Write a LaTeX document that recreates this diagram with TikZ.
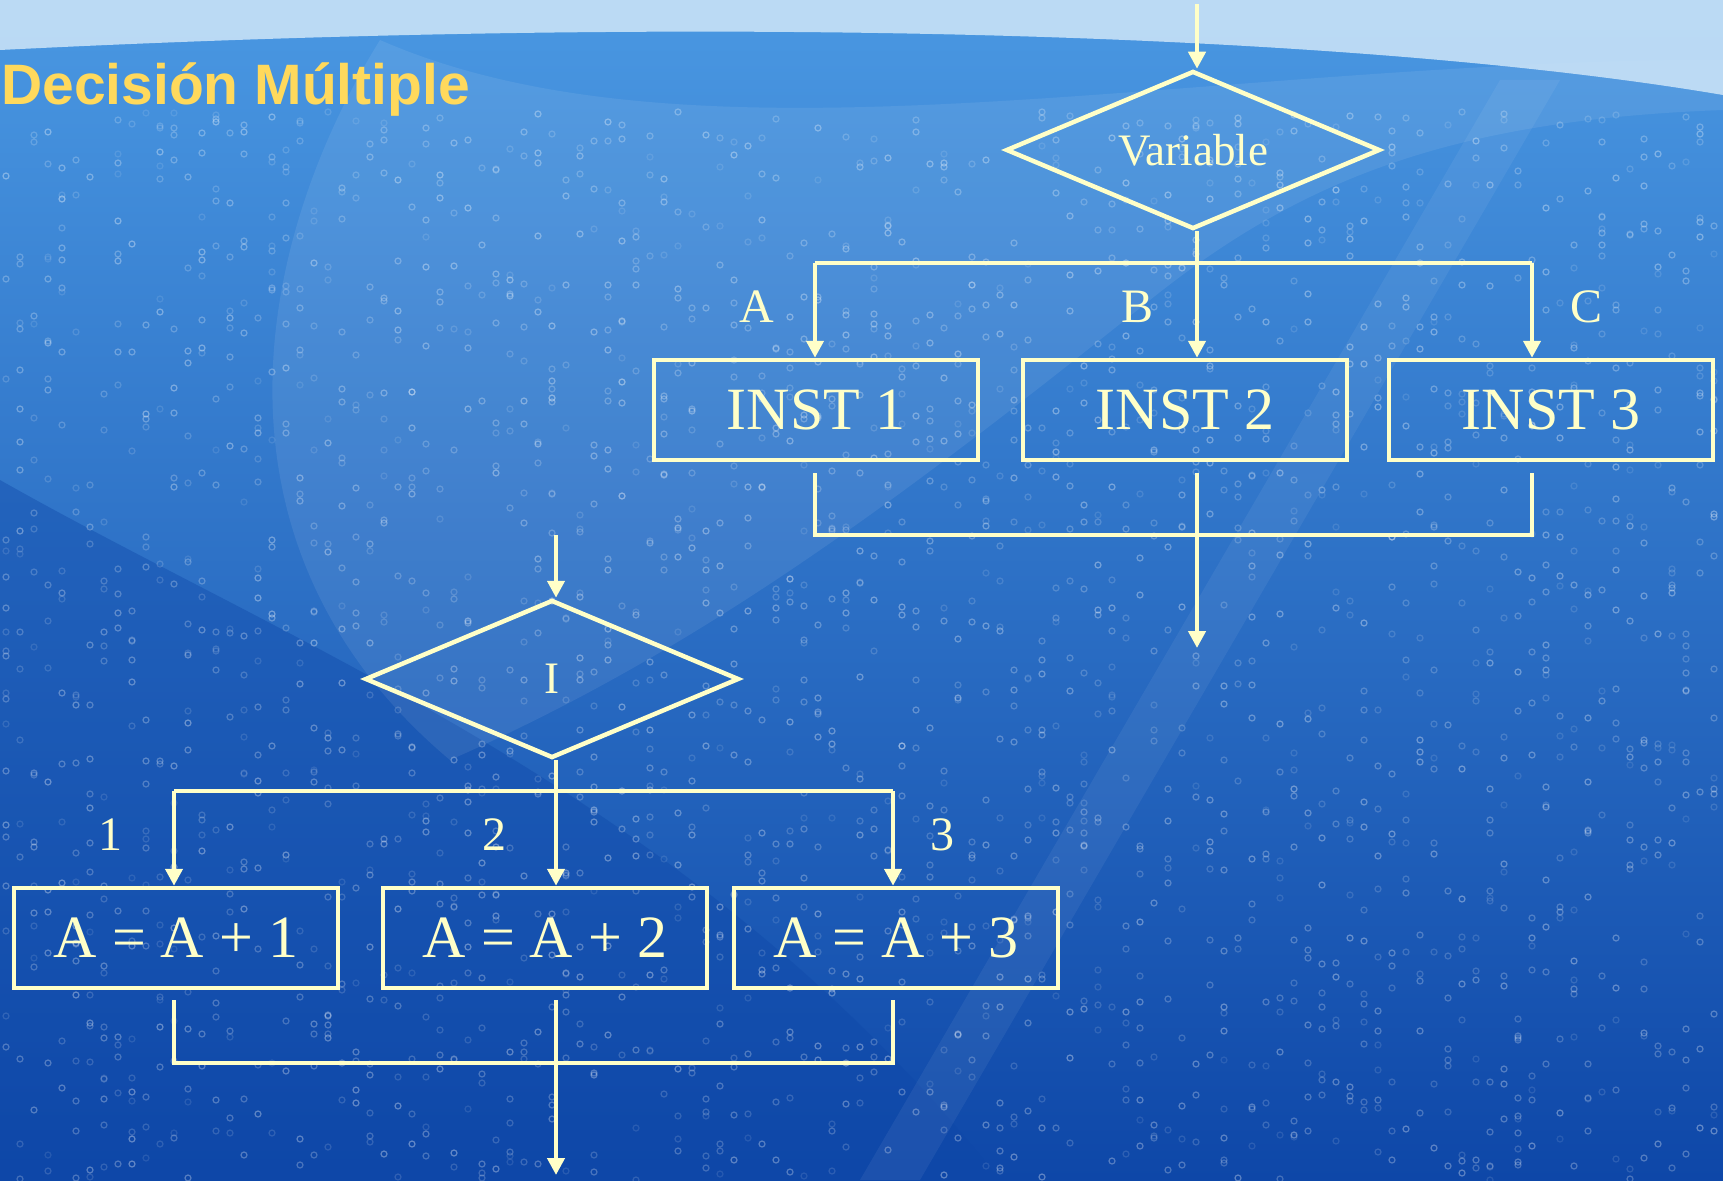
\documentclass[tikz,border=0pt]{standalone}
\usepackage{fontspec}
\setmainfont{Liberation Serif}
\newfontfamily\titlefont{Liberation Sans}
\usetikzlibrary{shapes.geometric,arrows.meta,calc}
\definecolor{lnc}{HTML}{FFFFC8}
\definecolor{ttl}{HTML}{FFD95C}
\definecolor{bgtop}{HTML}{4A98E2}
\definecolor{bgmid}{HTML}{2876D2}
\definecolor{bgbot}{HTML}{0E47A8}
\definecolor{skyc}{HTML}{CFE6F8}
\tikzset{
  ln/.style={draw=lnc,line width=4.5pt},
  arr/.style={ln,-{Triangle[length=17pt,width=17pt]}},
  boxnode/.style={draw=lnc,line width=4.5pt,minimum width=324pt,minimum height=100pt,inner sep=0pt,text=lnc,font=\fontsize{60}{60}\selectfont},
  decnode/.style={draw=lnc,line width=4.5pt,diamond,aspect=2.35,minimum width=374pt,minimum height=158pt,inner sep=0pt,text=lnc,font=\fontsize{45}{45}\selectfont},
  lbl/.style={text=lnc,inner sep=0pt,font=\fontsize{48}{48}\selectfont},
}
\begin{document}
\begin{tikzpicture}[x=1pt,y=-1pt]
% background
\useasboundingbox (0,0) rectangle (1723,1180);
\shade[top color=bgtop,middle color=bgmid,bottom color=bgbot] (0,0) rectangle (1723,1180);
\fill[bgbot,opacity=0.4] (0,1180) -- (0,480) .. controls (300,650) and (700,800) .. (1000,1180) -- cycle;
\fill[white,opacity=0.08] (380,40) .. controls (250,250) and (200,550) .. (450,760) .. controls (700,650) and (900,500) .. (1150,300) .. controls (1300,180) and (1450,120) .. (1723,110) -- (1723,60) .. controls (1200,60) and (700,180) .. (380,40) -- cycle;
\fill[skyc,opacity=0.85] (0,0) -- (1723,0) -- (1723,95) .. controls (1400,40) and (800,10) .. (0,50) -- cycle;
\fill[white,opacity=0.06] (860,1180) -- (1500,80) -- (1560,80) -- (920,1180) -- cycle;
\pgfmathsetseed{11}
\foreach \cx in {6,20,...,1720}{
  \foreach \k in {1,...,20}{
    \pgfmathsetmacro{\cy}{110+random(0,1070)}
    \pgfmathsetmacro{\op}{0.10+0.25*rnd}
    \draw[white,opacity=\op,line width=1.2pt] (\cx,\cy) circle (3pt);
  }
}
% title
\node[anchor=base west,inner sep=0pt,text=ttl,font=\titlefont\bfseries\fontsize{57}{57}\selectfont] (title) at (1,105) {Decisión Múltiple};
% ---------- upper flowchart ----------
\node[decnode] (dv) at (1193,150) {Variable};
\node[boxnode] (b1) at (816,410) {INST 1};
\node[boxnode] (b2) at (1185,410) {INST 2};
\node[boxnode] (b3) at (1551,410) {INST 3};
\coordinate (inA) at (1197,4);
\coordinate (spA) at (1197,263);
\coordinate (cA) at (815,263);
\coordinate (cC) at (1532,263);
\coordinate (mA) at (815,535);
\coordinate (mC) at (1532,535);
\coordinate (outA) at (1197,648);
\draw[arr] (inA) -- (inA |- dv.north);
\draw[ln] (inA |- dv.south) -- (spA);
\draw[ln] (cA) -- (cC);
\draw[arr] (cA) -- (cA |- b1.north);
\draw[arr] (spA) -- (spA |- b2.north);
\draw[arr] (cC) -- (cC |- b3.north);
\draw[ln] ($(cA |- b1.south)+(0,11)$) -- (mA) -- (mC) -- ($(cC |- b3.south)+(0,11)$);
\draw[arr] ($(spA |- b2.south)+(0,11)$) -- (outA);
\node[lbl] (la) at (757,307) {A};
\node[lbl] (lb) at (1137,307) {B};
\node[lbl] (lc) at (1586,307) {C};
% ---------- lower flowchart ----------
\node[decnode] (di) at (552,679) {I};
\node[boxnode] (c1) at (176,938) {A = A + 1};
\node[boxnode] (c2) at (545,938) {A = A + 2};
\node[boxnode] (c3) at (896,938) {A = A + 3};
\coordinate (inB) at (556,535);
\coordinate (spB) at (556,791);
\coordinate (dA) at (174,791);
\coordinate (dC) at (893,791);
\coordinate (nA) at (174,1063);
\coordinate (nC) at (893,1063);
\coordinate (outB) at (556,1175);
\draw[arr] (inB) -- (inB |- di.north);
\draw[ln] (inB |- di.south) -- (spB);
\draw[ln] (dA) -- (dC);
\draw[arr] (dA) -- (dA |- c1.north);
\draw[arr] (spB) -- (spB |- c2.north);
\draw[arr] (dC) -- (dC |- c3.north);
\draw[ln] ($(dA |- c1.south)+(0,10)$) -- (nA) -- (nC) -- ($(dC |- c3.south)+(0,10)$);
\draw[arr] ($(spB |- c2.south)+(0,10)$) -- (outB);
\node[lbl] (l1) at (110,835) {1};
\node[lbl] (l2) at (494,835) {2};
\node[lbl] (l3) at (942,835) {3};
\end{tikzpicture}
\end{document}
